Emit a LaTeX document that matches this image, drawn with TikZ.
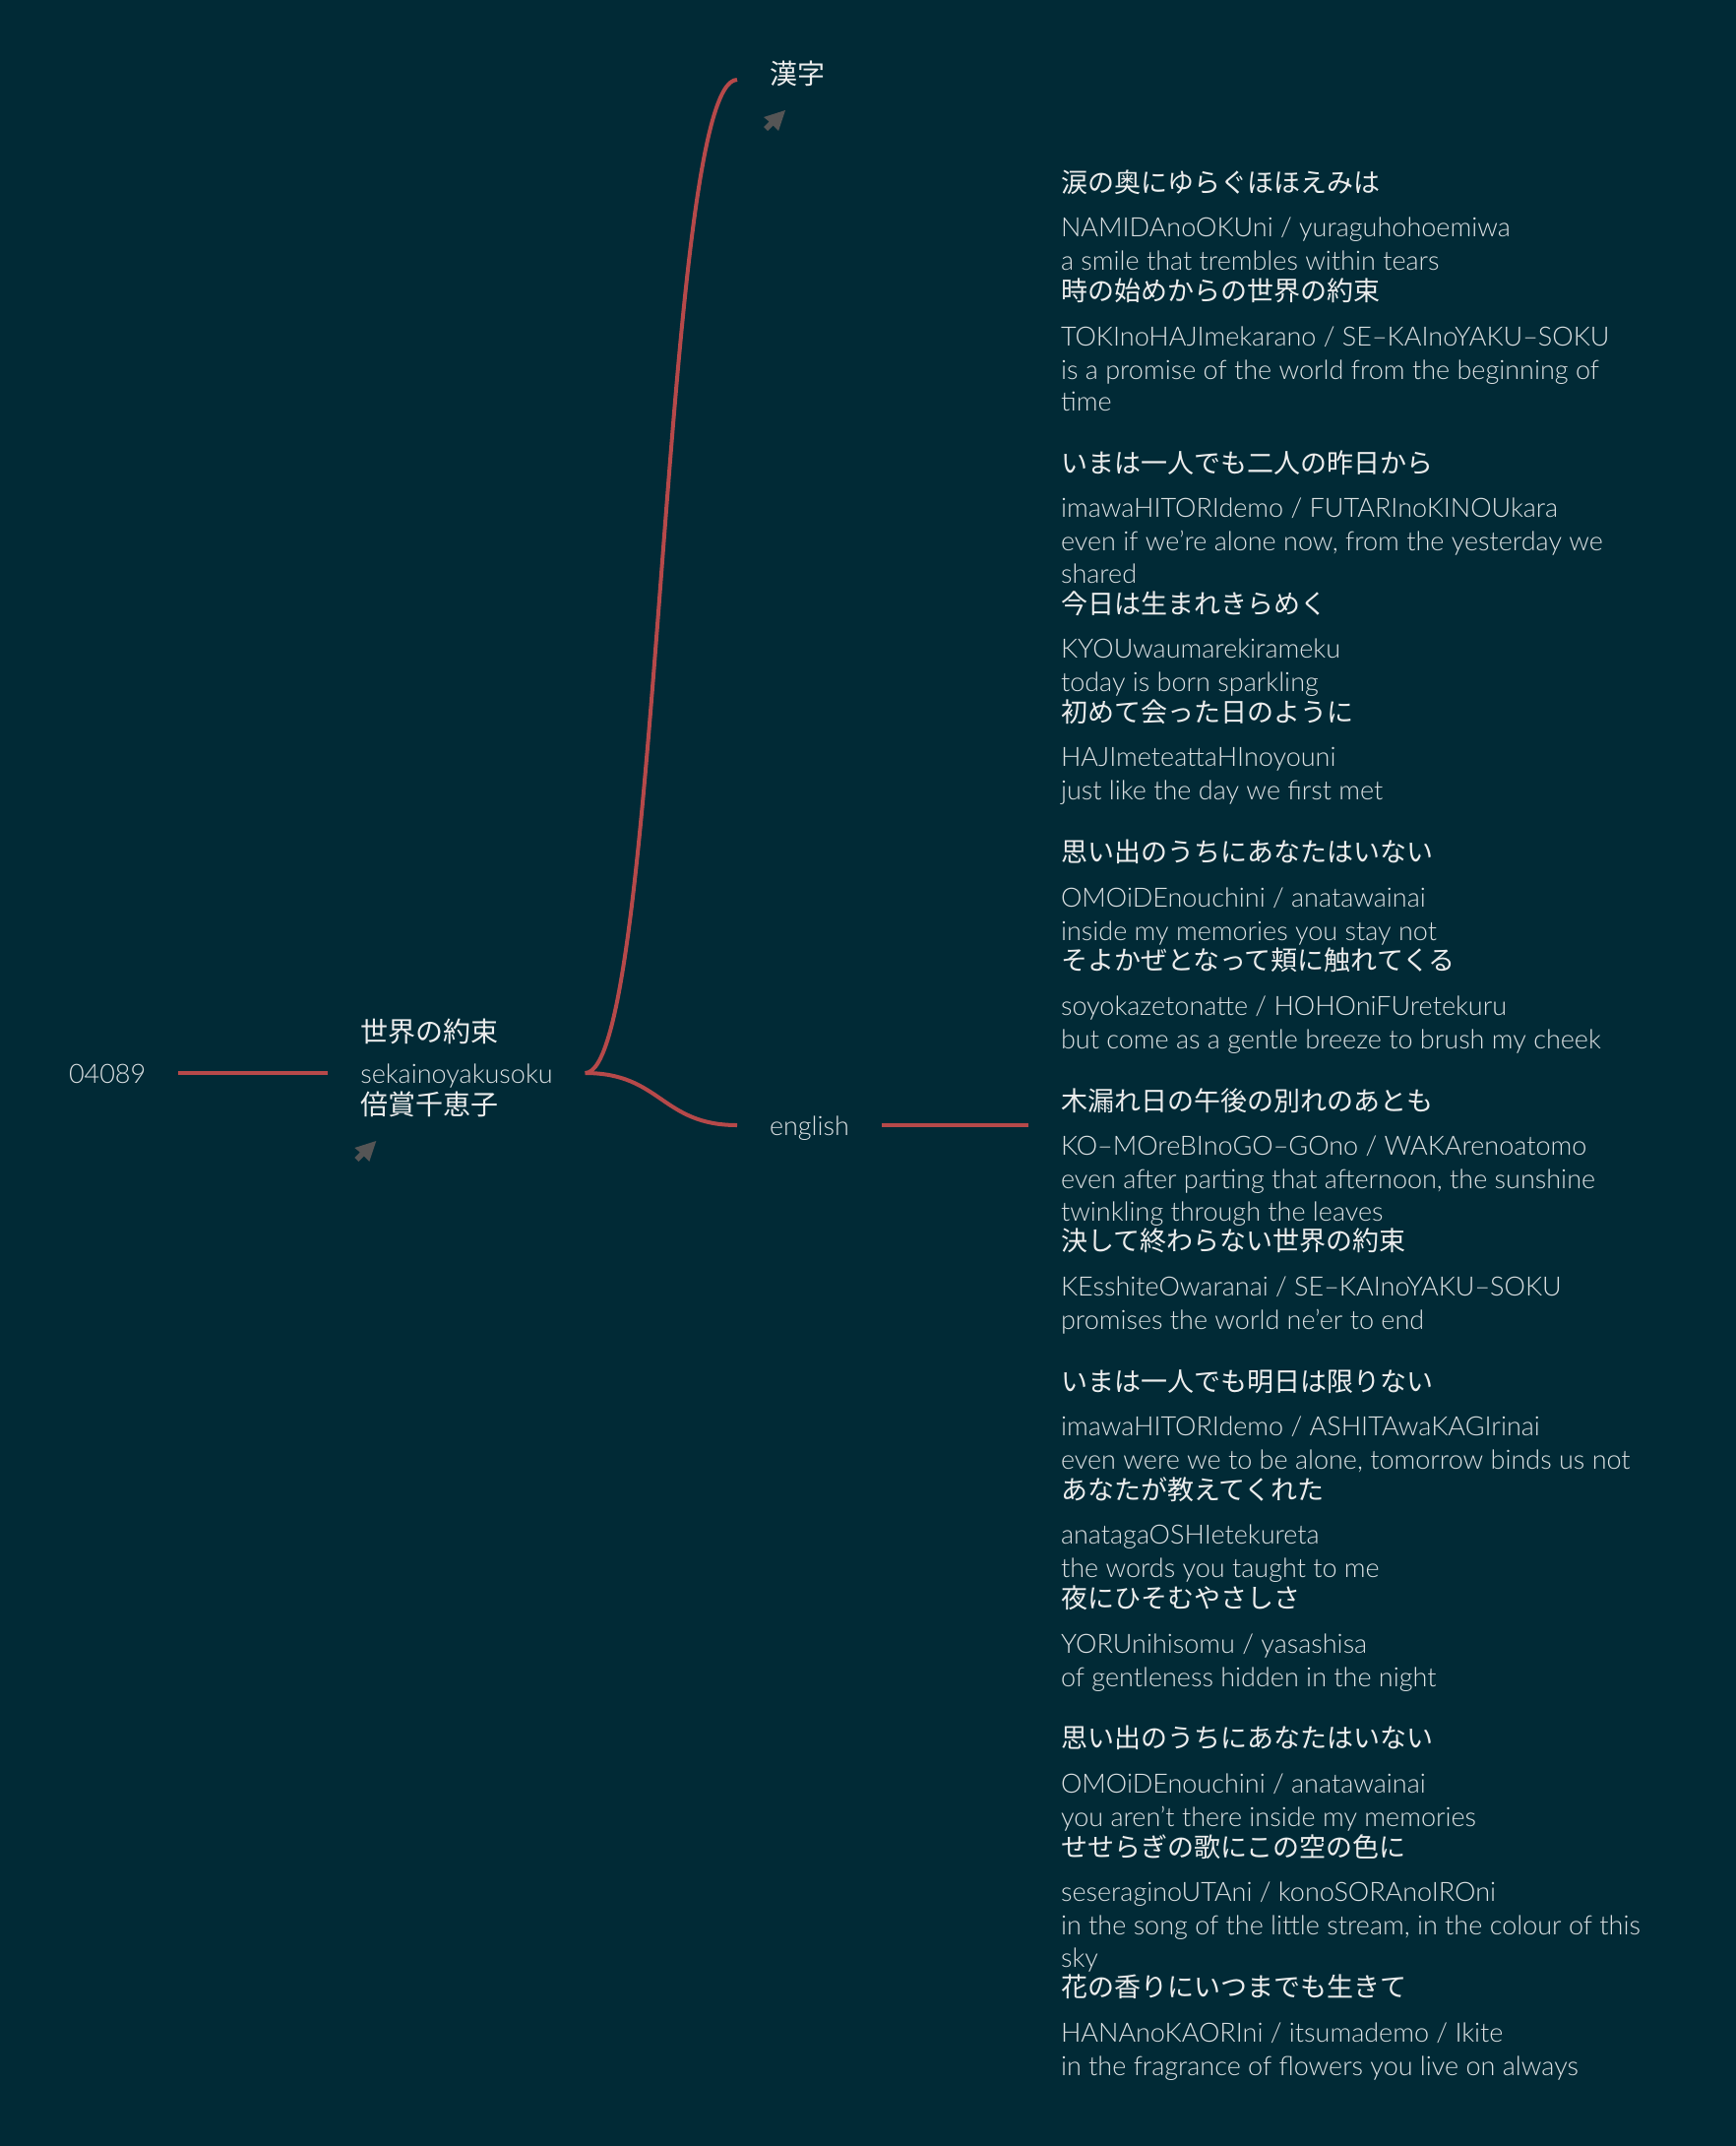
\documentclass[tikz,border=0pt]{standalone}
\usepackage{fontspec}
\setmainfont{Lato Light}
\newfontfamily\jpfont{Noto Sans CJK JP}
\usetikzlibrary{positioning}

\definecolor{bg}{HTML}{012A36}
\definecolor{linkred}{HTML}{B6494A}
\definecolor{jptext}{HTML}{ECEDED}
\definecolor{latintext}{HTML}{DCE1E3}
\definecolor{icongrey}{HTML}{555555}

\newcommand{\jpline}[1]{{\jpfont\color{jptext}#1}}

\begin{document}
\begin{tikzpicture}[x=0.5pt, y=-0.5pt,
  topic/.style={
    inner sep=0pt,
    outer xsep=16.5pt,
    text height=12pt,
    text depth=2pt,
    text=latintext,
    font=\fontsize{13.5pt}{16.75pt}\selectfont
  },
  jptopic/.style={
    topic,
    text=jptext,
    font=\jpfont\fontsize{14pt}{17pt}\selectfont
  },
  lyrics/.style={
    inner sep=0pt,
    outer xsep=16.5pt,
    align=left,
    text=latintext,
    font={\fontsize{13.5pt}{17pt}\selectfont\lineskiplimit-20pt}
  },
  link/.style={draw=linkred, line width=2pt},
  icon/.style={fill=icongrey},
  node distance=76pt
  ]

% Background
\fill[bg] (0,0) rectangle (1764,2180);

% Mind map nodes
\node[topic, anchor=west] (root) at (37,1090) {04089};
\node[topic, right=of root] (song) {sekainoyakusoku};
\node[jptopic, anchor=base west] (title) at ([yshift=21pt]song.base west) {世界の約束};
\node[jptopic, anchor=base west] (singer) at ([yshift=-16pt]song.base west) {倍賞千恵子};
\node[jptopic, anchor=west, text height=9pt, text depth=5pt] (kanji) at (749,81) {漢字};
\node[topic, anchor=west] (english) at (749,1143) {english};

\node[lyrics, right=74.5pt of english] (lyrics) {%
\jpline{涙の奥にゆらぐほほえみは}\\[5.75pt]
NAMIDAnoOKUni / yuraguhohoemiwa\\
a smile that trembles within tears\\[-1.65pt]
\jpline{時の始めからの世界の約束}\\[5.75pt]
TOKInoHAJImekarano / SE–KAInoYAKU–SOKU\\
is a promise of the world from the beginning of\\[-0.75pt]
time\\[14.4pt]
\jpline{いまは一人でも二人の昨日から}\\[5.75pt]
imawaHITORIdemo / FUTARInoKINOUkara\\
even if we’re alone now, from the yesterday we\\[-0.75pt]
shared\\[-1.65pt]
\jpline{今日は生まれきらめく}\\[5.75pt]
KYOUwaumarekirameku\\
today is born sparkling\\[-1.65pt]
\jpline{初めて会った日のように}\\[5.75pt]
HAJImeteattaHInoyouni\\
just like the day we first met\\[14.4pt]
\jpline{思い出のうちにあなたはいない}\\[5.75pt]
OMOiDEnouchini / anatawainai\\
inside my memories you stay not\\[-1.65pt]
\jpline{そよかぜとなって頬に触れてくる}\\[5.75pt]
soyokazetonatte / HOHOniFUretekuru\\
but come as a gentle breeze to brush my cheek\\[14.4pt]
\jpline{木漏れ日の午後の別れのあとも}\\[5.75pt]
KO–MOreBInoGO–GOno / WAKArenoatomo\\
even after parting that afternoon, the sunshine\\[-0.75pt]
twinkling through the leaves\\[-1.65pt]
\jpline{決して終わらない世界の約束}\\[5.75pt]
KEsshiteOwaranai / SE–KAInoYAKU–SOKU\\
promises the world ne’er to end\\[14.4pt]
\jpline{いまは一人でも明日は限りない}\\[5.75pt]
imawaHITORIdemo / ASHITAwaKAGIrinai\\
even were we to be alone, tomorrow binds us not\\[-1.65pt]
\jpline{あなたが教えてくれた}\\[5.75pt]
anatagaOSHIetekureta\\
the words you taught to me\\[-1.65pt]
\jpline{夜にひそむやさしさ}\\[5.75pt]
YORUnihisomu / yasashisa\\
of gentleness hidden in the night\\[14.4pt]
\jpline{思い出のうちにあなたはいない}\\[5.75pt]
OMOiDEnouchini / anatawainai\\
you aren’t there inside my memories\\[-1.65pt]
\jpline{せせらぎの歌にこの空の色に}\\[5.75pt]
seseraginoUTAni / konoSORAnoIROni\\
in the song of the little stream, in the colour of this\\[-0.75pt]
sky\\[-1.65pt]
\jpline{花の香りにいつまでも生きて}\\[5.75pt]
HANAnoKAORIni / itsumademo / Ikite\\
in the fragrance of flowers you live on always};

% Links
\draw[link] (root.east) -- (song.west);
\draw[link] (song.east) .. controls +(77,0) and +(-77,0) .. (kanji.west);
\draw[link] (song.east) .. controls +(77,0) and +(-77,0) .. (english.west);
\draw[link] (english.east) -- (lyrics.west);

% Image icons
\fill[icon] ([shift={(49,27)}]kanji.base west) -- ++(-22,7) -- ++(5.5,4.5) -- ++(-5.5,5.5)
  -- ++(4,4) -- ++(5.5,-5.5) -- ++(5.5,5.5) -- cycle;
\fill[icon] ([shift={(49,27)}]singer.base west) -- ++(-22,7) -- ++(5.5,4.5) -- ++(-5.5,5.5)
  -- ++(4,4) -- ++(5.5,-5.5) -- ++(5.5,5.5) -- cycle;

\end{tikzpicture}
\end{document}
